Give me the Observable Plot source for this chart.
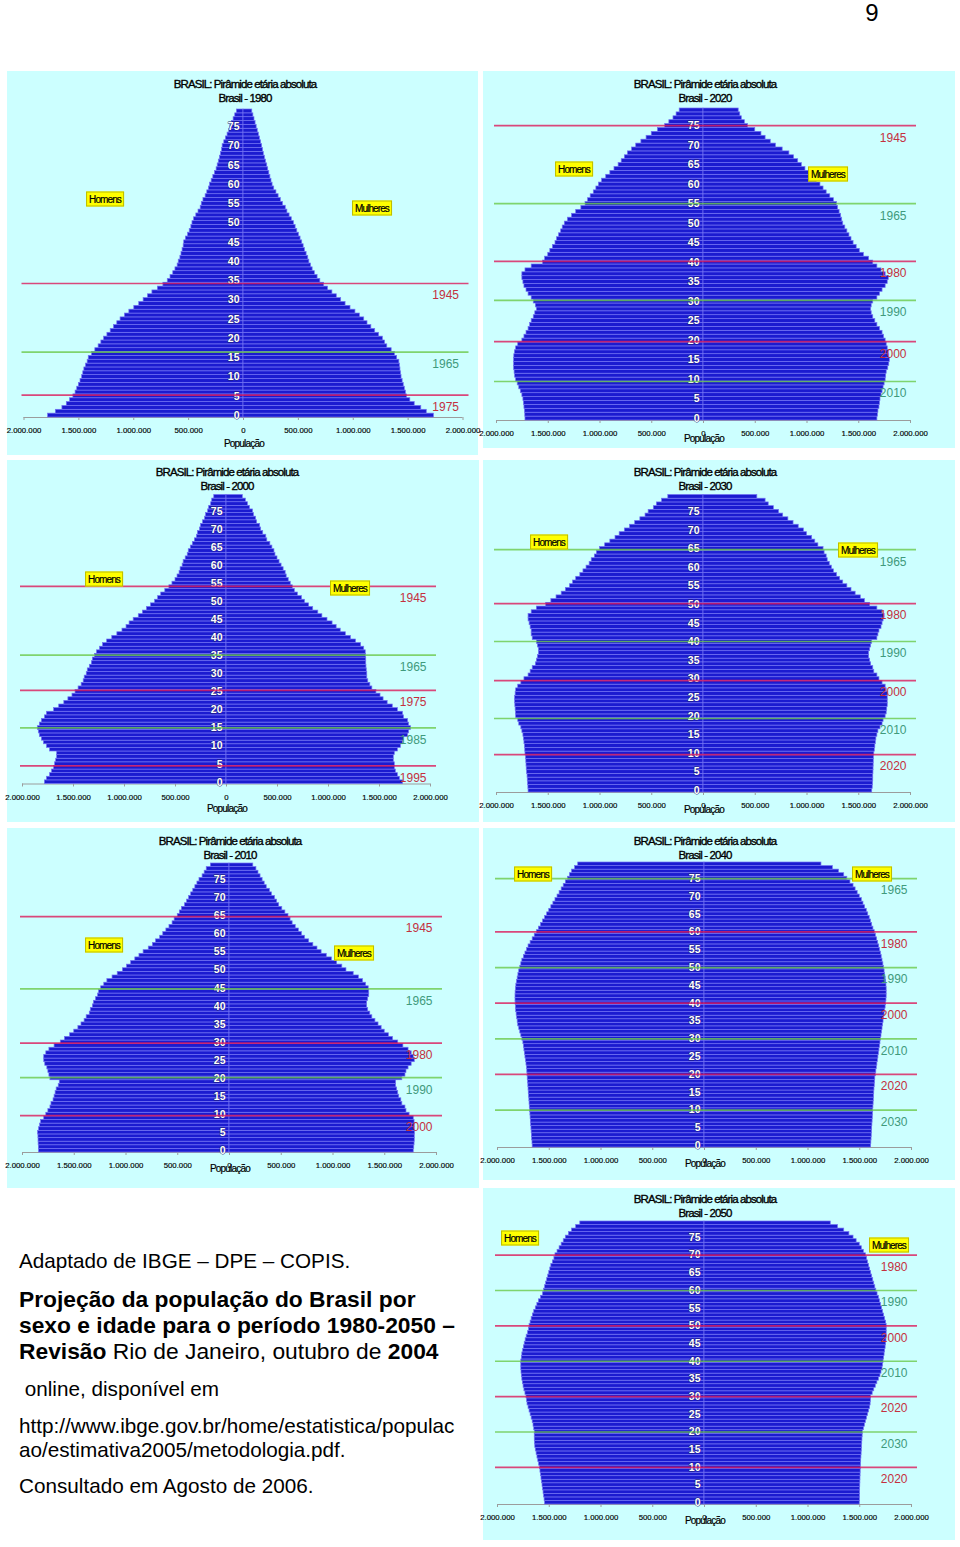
<!DOCTYPE html>
<html><head><meta charset="utf-8">
<script src="https://cdn.jsdelivr.net/npm/d3@7"></script>
<script src="https://cdn.jsdelivr.net/npm/@observablehq/plot@0.6"></script>
<style>
body{margin:0;background:#fff;}
#page{position:relative;width:960px;height:1547px;overflow:hidden;font-family:Arial,"Liberation Sans",sans-serif;background:#fff;}
.panel{position:absolute;background:#ccffff;}
.chart{position:absolute;overflow:visible;}
.t{position:absolute;transform:translate(-50%,-50%);white-space:nowrap;font-size:11.5px;letter-spacing:-0.9px;color:#000;line-height:12px;-webkit-text-stroke:0.35px #000;}
.tag{position:absolute;transform:translate(-50%,-50%);white-space:nowrap;background:#ffff00;border:1px solid #bdbd00;font-size:10px;letter-spacing:-0.9px;padding:2px 2px 1px 2px;line-height:10px;color:#000;-webkit-text-stroke:0.2px #000;}
.pop{position:absolute;transform:translate(-50%,-50%);white-space:nowrap;font-size:10px;letter-spacing:-0.8px;color:#000;line-height:11px;-webkit-text-stroke:0.2px #000;}
.cap{position:absolute;left:19px;transform:translateY(-50%);white-space:nowrap;font-size:20.7px;color:#000;line-height:24px;}
.cap b{font-size:22.8px;}
.big{font-size:22.8px;}
.num{position:absolute;left:872px;top:13px;transform:translate(-50%,-50%);font-size:24px;color:#000;}
</style>
</head><body>
<div id="page"></div>
<script>
// ---------- data (thousands of people, ages 0..79) ----------
const ages = d3.range(0, 80);
const ageTicks = [0,5,10,15,20,25,30,35,40,45,50,55,60,65,70,75];
const xTicks = [-2000,-1500,-1000,-500,0,500,1000,1500,2000];

const men1980 = [1780,1710,1650,1610,1580,1550,1530,1515,1500,1485,
1470,1460,1450,1435,1420,1410,1380,1350,1320,1295,
1270,1240,1210,1180,1150,1120,1080,1040,995,950,
910,870,830,780,730,690,665,640,620,600,
590,575,565,555,545,540,525,505,490,475,
465,450,430,410,390,380,365,345,330,315,
305,290,275,260,245,235,225,215,205,195,
190,175,160,145,130,120,105,90,75,60];
const women1980 = [1735,1670,1620,1560,1520,1490,1480,1470,1460,1450,
1440,1435,1430,1425,1420,1400,1380,1350,1310,1290,
1270,1235,1200,1165,1130,1100,1060,1020,975,930,
890,850,810,770,735,700,675,650,630,615,
600,590,575,560,548,535,520,505,490,475,
460,440,420,400,385,360,340,320,300,280,
265,255,245,235,225,216,205,195,185,178,
170,160,150,140,130,120,110,100,90,80];

const men2020 = [1720,1722,1725,1730,1735,1740,1750,1765,1780,1795,
1810,1820,1825,1830,1830,1830,1828,1822,1810,1790,
1750,1730,1710,1690,1675,1660,1640,1625,1610,1620,
1640,1660,1690,1710,1730,1740,1750,1750,1720,1660,
1550,1530,1500,1480,1455,1430,1415,1395,1375,1360,
1340,1310,1270,1230,1180,1140,1115,1090,1060,1035,
1010,980,940,900,860,820,790,760,730,690,
650,600,550,500,440,370,330,290,260,230];
const women2020 = [1680,1685,1690,1700,1705,1710,1720,1730,1740,1750,
1760,1765,1770,1785,1795,1800,1795,1790,1780,1770,
1760,1745,1730,1705,1680,1660,1640,1625,1620,1625,
1640,1680,1705,1730,1760,1780,1790,1760,1720,1680,
1640,1600,1550,1510,1480,1450,1430,1410,1390,1370,
1350,1340,1330,1315,1300,1290,1260,1225,1190,1160,
1130,1095,1060,1020,985,950,915,875,830,765,
700,650,600,560,500,430,400,370,355,340];

const men2000 = [1780,1760,1730,1710,1690,1680,1670,1660,1660,1730,
1760,1790,1810,1830,1840,1850,1830,1810,1780,1760,
1690,1640,1590,1550,1510,1480,1450,1420,1400,1390,
1370,1360,1340,1320,1310,1290,1270,1240,1210,1170,
1120,1070,1020,980,950,910,860,820,780,740,
700,670,640,600,560,530,500,480,460,450,
430,420,400,380,370,350,330,310,290,280,
260,250,230,210,200,180,170,150,140,120];
const women2000 = [1730,1700,1680,1660,1650,1650,1640,1640,1650,1680,
1710,1730,1740,1780,1790,1810,1790,1780,1740,1730,
1680,1630,1580,1540,1510,1470,1430,1410,1390,1380,
1380,1375,1372,1370,1370,1368,1365,1350,1320,1270,
1220,1170,1120,1080,1040,990,940,900,850,810,
770,740,700,670,650,630,610,590,580,560,
540,520,500,480,470,450,430,400,390,360,
340,330,300,290,270,260,230,210,190,160];

const men2030 = [1690,1692,1695,1698,1700,1705,1708,1710,1712,1715,
1720,1722,1725,1730,1735,1740,1750,1760,1780,1790,
1810,1812,1815,1818,1820,1820,1815,1810,1790,1760,
1730,1690,1670,1650,1620,1610,1600,1590,1590,1600,
1610,1650,1660,1660,1670,1680,1690,1690,1660,1610,
1520,1470,1420,1370,1330,1290,1260,1230,1190,1160,
1130,1100,1080,1050,1030,1000,950,900,850,810,
760,710,660,610,560,530,480,450,400,340];
const women2030 = [1630,1635,1638,1640,1640,1642,1643,1644,1645,1646,
1650,1655,1660,1665,1670,1680,1690,1710,1730,1740,
1760,1770,1775,1780,1780,1780,1780,1770,1760,1730,
1700,1680,1650,1640,1620,1610,1600,1600,1610,1620,
1630,1680,1690,1700,1720,1730,1740,1750,1730,1680,
1610,1560,1520,1470,1430,1390,1350,1320,1290,1260,
1240,1220,1200,1190,1170,1160,1110,1080,1050,1000,
970,920,870,820,770,730,680,630,600,520];

const men2010 = [1840,1842,1844,1845,1846,1850,1840,1830,1820,1790,
1770,1750,1730,1720,1700,1690,1680,1670,1650,1640,
1730,1740,1750,1760,1780,1790,1790,1770,1740,1690,
1630,1590,1540,1500,1460,1430,1400,1380,1350,1340,
1320,1310,1290,1270,1260,1240,1210,1180,1130,1080,
1030,990,950,910,870,830,780,740,710,670,
640,610,580,550,530,500,480,460,430,410,
390,370,350,330,310,290,260,240,220,180];
const women2010 = [1780,1785,1788,1790,1790,1792,1790,1790,1788,1780,
1740,1710,1700,1670,1660,1640,1630,1620,1610,1610,
1670,1700,1710,1730,1760,1790,1780,1760,1730,1680,
1630,1580,1540,1500,1470,1440,1410,1380,1360,1340,
1330,1330,1340,1350,1350,1345,1320,1290,1250,1200,
1130,1090,1040,990,940,890,850,810,770,730,
700,670,640,610,590,570,540,510,480,460,
440,410,390,360,340,320,300,280,260,230];

const men2040 = [1660,1662,1665,1668,1670,1672,1675,1678,1680,1682,
1685,1688,1690,1692,1695,1698,1700,1702,1705,1708,
1710,1712,1715,1720,1725,1730,1735,1740,1745,1750,
1760,1770,1780,1790,1800,1805,1810,1815,1820,1822,
1825,1826,1826,1825,1822,1818,1812,1805,1798,1790,
1780,1770,1760,1745,1730,1715,1700,1680,1660,1640,
1620,1600,1580,1560,1540,1520,1500,1480,1460,1440,
1420,1400,1380,1360,1340,1320,1300,1280,1250,1220];
const women2040 = [1610,1612,1614,1616,1618,1620,1622,1624,1626,1628,
1630,1632,1634,1636,1638,1640,1642,1645,1648,1650,
1655,1660,1665,1670,1675,1680,1685,1690,1695,1700,
1705,1710,1715,1720,1725,1730,1735,1740,1745,1750,
1755,1758,1760,1760,1760,1758,1755,1750,1745,1740,
1735,1728,1720,1712,1705,1696,1688,1678,1668,1656,
1645,1632,1620,1608,1596,1582,1568,1552,1536,1520,
1500,1480,1460,1440,1410,1380,1350,1300,1240,1130];

const men2050 = [1540,1545,1550,1555,1560,1565,1570,1575,1580,1585,
1590,1598,1606,1614,1622,1630,1635,1638,1640,1640,
1640,1645,1652,1660,1670,1680,1690,1700,1710,1715,
1720,1730,1740,1748,1755,1760,1765,1768,1770,1770,
1770,1765,1760,1752,1745,1737,1728,1718,1705,1695,
1690,1680,1670,1658,1645,1630,1615,1600,1580,1560,
1550,1540,1530,1520,1510,1500,1490,1480,1465,1450,
1440,1420,1400,1380,1360,1340,1310,1280,1240,1200];
const women2050 = [1500,1501,1502,1503,1504,1505,1506,1507,1508,1509,
1510,1512,1514,1516,1518,1520,1522,1524,1526,1528,
1530,1540,1550,1560,1570,1580,1590,1600,1605,1608,
1610,1625,1640,1655,1670,1685,1700,1710,1720,1725,
1730,1735,1740,1745,1750,1755,1758,1760,1760,1760,
1760,1755,1745,1735,1725,1715,1705,1695,1685,1672,
1660,1650,1640,1630,1620,1610,1600,1590,1580,1570,
1560,1540,1520,1500,1470,1440,1400,1350,1290,1220];

// cohort marker lines: label and the age where the line sits
const cohorts1980 = ["1945","1965","1975"];
const cohortAge1980 = [34.3,16.5,5.3];
const cohorts2020 = ["1945","1965","1980","1990","2000","2010"];
const cohortAge2020 = [75.1,55.1,40.3,30.3,19.7,9.5];
const cohorts2000 = ["1945","1965","1975","1985","1995"];
const cohortAge2000 = [54.2,35.2,25.4,15.05,4.5];
const cohorts2030 = ["1965","1980","1990","2000","2010","2020"];
const cohortAge2030 = [64.8,50.3,40.1,29.6,19.4,9.7];
const cohorts2010 = ["1945","1965","1980","1990","2000"];
const cohortAge2010 = [64.8,44.8,29.8,20.2,9.7];
const cohorts2040 = ["1965","1980","1990","2000","2010","2020","2030"];
const cohortAge2040 = [75,60,50,40,30,20,10];
const cohorts2050 = ["1980","1990","2000","2010","2020","2030","2020"];
const cohortAge2050 = [70,60,50,40,30,20,10];
const redCohorts = ["1945","1975","1980","1995","2000","2020"];

const years = [1980,2020,2000,2030,2010,2040,2050];
const title = "BRASIL: Pirâmide etária absoluta";

// ---------- layout ----------
const layout = [
 {left:7,  top:71,  w:471, h:384, x0:243, half:219.5, yB:417,  yT:109,  tX:245, tY:84,   pY:443,  H:[105,199],  M:[372,208]},
 {left:483,top:71,  w:472, h:377, x0:703, half:207,   yB:420,  yT:108,  tX:705, tY:84,   pY:438,  H:[574,169],  M:[828,174]},
 {left:7,  top:460, w:472, h:362, x0:226, half:204,   yB:783.5,yT:494.5,tX:227, tY:472,  pY:808,  H:[104,579],  M:[350,588]},
 {left:483,top:460, w:472, h:362, x0:703, half:207,   yB:792,  yT:494.5,tX:705, tY:472,  pY:809,  H:[549,542],  M:[858,550]},
 {left:7,  top:828, w:472, h:360, x0:229, half:207,   yB:1152, yT:863,  tX:230, tY:841,  pY:1168, H:[104,945],  M:[354,953]},
 {left:483,top:828, w:472, h:352, x0:704, half:207,   yB:1147, yT:862,  tX:705, tY:841,  pY:1163, H:[533,874],  M:[872,874]},
 {left:483,top:1188,w:472, h:352, x0:704, half:207,   yB:1504, yT:1221, tX:705, tY:1199, pY:1520, H:[520,1238], M:[889,1245]}
];

const charts = [
 {men:men1980, women:women1980, labels:cohorts1980, at:cohortAge1980},
 {men:men2020, women:women2020, labels:cohorts2020, at:cohortAge2020},
 {men:men2000, women:women2000, labels:cohorts2000, at:cohortAge2000},
 {men:men2030, women:women2030, labels:cohorts2030, at:cohortAge2030},
 {men:men2010, women:women2010, labels:cohorts2010, at:cohortAge2010},
 {men:men2040, women:women2040, labels:cohorts2040, at:cohortAge2040},
 {men:men2050, women:women2050, labels:cohorts2050, at:cohortAge2050}
];

const BAR = "#1b1bd0", EDGE = "#7272f4";
const RED = "#dc1a5a", GREEN = "#6cc94a", REDTXT = "#c4303e", GRNTXT = "#3f9a7c";
const fmt = d3.formatLocale({decimal:",", thousands:".", grouping:[3], currency:["",""]}).format(",d");
const page = document.getElementById("page");

function addDiv(cls, x, y, html){
  const d = document.createElement("div");
  d.className = cls; d.style.left = x + "px"; d.style.top = y + "px"; d.innerHTML = html;
  page.appendChild(d); return d;
}

charts.forEach((c, i) => {
  const L = layout[i];
  const bg = document.createElement("div");
  bg.className = "panel";
  Object.assign(bg.style, {left:L.left+"px", top:L.top+"px", width:L.w+"px", height:L.h+"px"});
  page.appendChild(bg);

  const rows = ages.map((a, j) => ({age:a, m:c.men[j], f:c.women[j]}));
  const lines = c.labels.map((t, j) => ({label:t, age:c.at[j], red:redCohorts.includes(t)}));

  const svg = Plot.plot({
    width: L.w, height: L.h,
    marginLeft: L.x0 - L.half - L.left,
    marginRight: L.left + L.w - (L.x0 + L.half),
    marginTop: L.yT - L.top,
    marginBottom: L.top + L.h - L.yB,
    x: {domain:[-2000, 2000], axis:null},
    y: {domain:[ages[0] - 0.5, ages[ages.length-1] + 0.5], axis:null},
    style: {background:"transparent", overflow:"visible", fontFamily:"'Liberation Sans Narrow','Arial Narrow',Arial,sans-serif", fontSize:"7.5px", color:"#000"},
    marks: [
      Plot.ruleY([ages[0] - 0.5], {stroke:"#9c9c9c", strokeWidth:1}),
      Plot.axisX(xTicks, {tickFormat:d => fmt(Math.abs(d * 1000)), tickSize:3, tickPadding:7, stroke:"#9c9c9c", fontSize:7.8, label:null, textStroke:"#000", textStrokeWidth:0.15}),
      Plot.rect(rows, {x1:() => 0, x2:d => -d.m, y1:d => d.age - 0.5, y2:d => d.age + 0.5, fill:BAR, stroke:EDGE, strokeWidth:0.7}),
      Plot.rect(rows, {x1:() => 0, x2:d => d.f,  y1:d => d.age - 0.5, y2:d => d.age + 0.5, fill:BAR, stroke:EDGE, strokeWidth:0.7}),
      Plot.text(ageTicks, {x:() => 0, y:d => d, text:d => String(d), textAnchor:"end", dx:-4, fill:"#ffffff", stroke:"#20206a", strokeWidth:0.8, paintOrder:"stroke", fontSize:10.5, fontWeight:"bold", fontFamily:"'Liberation Sans Narrow',Arial,sans-serif"}),
      Plot.ruleY(lines, {y:"age", stroke:d => d.red ? RED : GREEN, strokeWidth:1.7, strokeOpacity:0.8, insetLeft:-2, insetRight:-6}),
      Plot.text(lines, {y:"age", text:"label", frameAnchor:"right", textAnchor:"end", dx:-4, dy:12, fill:d => d.red ? REDTXT : GRNTXT, fontSize:12, fontFamily:"Arial,'Liberation Sans',sans-serif"})
    ]
  });
  svg.classList.add("chart");
  svg.style.left = L.left + "px";
  svg.style.top = L.top + "px";
  page.appendChild(svg);

  addDiv("t", L.tX, L.tY, title);
  addDiv("t", L.tX, L.tY + 14, "Brasil - " + years[i]);
  addDiv("pop", L.x0 + 1, L.pY, "População");
  addDiv("tag", L.H[0], L.H[1], "Homens");
  addDiv("tag", L.M[0], L.M[1], "Mulheres");
});

// page number and source text
const n = document.createElement("div"); n.className = "num"; n.textContent = "9"; page.appendChild(n);
const capLines = [
 [1261, "Adaptado de IBGE – DPE – COPIS."],
 [1299, "<b>Projeção da população do Brasil por</b>"],
 [1325, "<b>sexo e idade para o período 1980-2050 –</b>"],
 [1351, "<b>Revisão</b><span class='big'> Rio de Janeiro, outubro de </span><b>2004</b>"],
 [1389, "&nbsp;online, disponível em"],
 [1426, "http://www.ibge.gov.br/home/estatistica/populac"],
 [1450, "ao/estimativa2005/metodologia.pdf."],
 [1486, "Consultado em Agosto de 2006."]
];
capLines.forEach(([y, h]) => {
  const d = document.createElement("div"); d.className = "cap"; d.style.top = y + "px"; d.innerHTML = h; page.appendChild(d);
});
</script>
</body></html>
